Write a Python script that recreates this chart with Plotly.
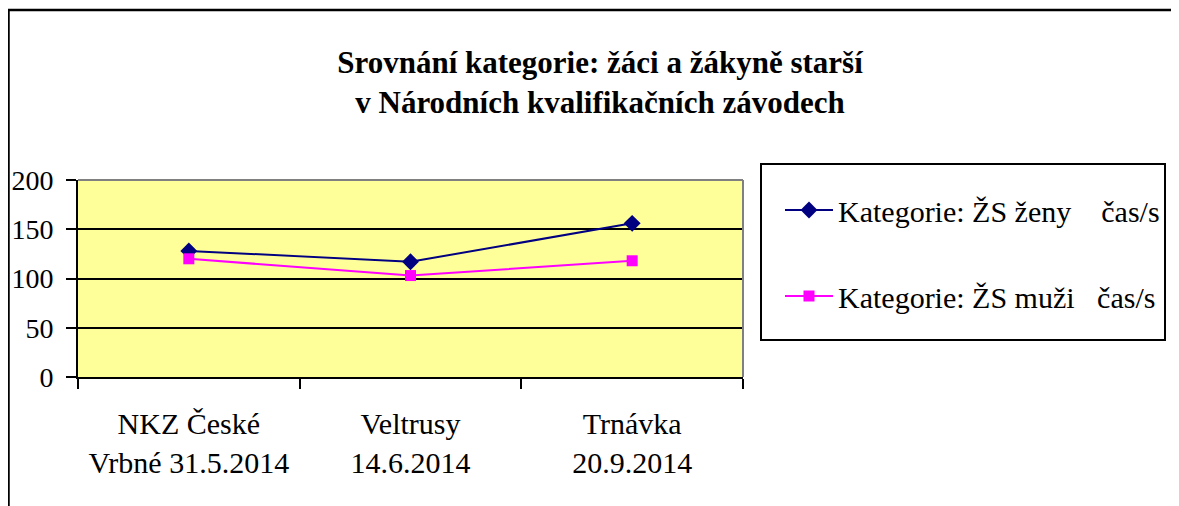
import plotly.graph_objects as go

categories = ["NKZ České<br>Vrbné 31.5.2014", "Veltrusy<br>14.6.2014", "Trnávka<br>20.9.2014"]
zeny = [128, 117, 156]
muzi = [120, 103, 118]
series_names = ["Kategorie: ŽS ženy    čas/s", "Kategorie: ŽS muži   čas/s"]
y_ticks = [0, 50, 100, 150, 200]

# the page body has an 8px default margin; work in screen coordinates
OFF = 8
W, H = 1179 - OFF, 506 - OFF
L, R, T, B = 78 - OFF, 743 - OFF, 180 - OFF, 377 - OFF
FONT = "Liberation Serif"


def px(x):
    return (x - OFF - L) / (R - L)


def py(y):
    return (B - (y - OFF)) / (B - T)


fig = go.Figure()
fig.add_trace(go.Scatter(
    x=categories, y=zeny, name=series_names[0], mode="lines+markers",
    line=dict(color="#000080", width=2),
    marker=dict(symbol="diamond", size=13, color="#000080"),
    legendgroup="a",
))
fig.add_trace(go.Scatter(
    x=categories, y=muzi, name=series_names[1], mode="lines+markers",
    line=dict(color="#FF00FF", width=2),
    marker=dict(symbol="square", size=11, color="#FF00FF"),
    legendgroup="b",
))

shapes = [
    # outer chart frame (top and left visible)
    dict(type="line", xref="paper", yref="paper", x0=px(7), x1=px(1200), y0=py(10), y1=py(10),
         line=dict(color="black", width=2.5)),
    dict(type="line", xref="paper", yref="paper", x0=px(8.5), x1=px(8.5), y0=py(9), y1=py(530),
         line=dict(color="black", width=2.5)),
    # grey plot-area border (top, right)
    dict(type="line", xref="paper", yref="paper", x0=0, x1=1, y0=1, y1=1,
         line=dict(color="#808080", width=2), layer="above"),
    dict(type="line", xref="paper", yref="paper", x0=1, x1=1, y0=0, y1=1,
         line=dict(color="#808080", width=2), layer="above"),
    # legend box
    dict(type="rect", xref="paper", yref="paper", x0=px(761), x1=px(1165), y0=py(340), y1=py(164),
         line=dict(color="black", width=2), fillcolor="white", layer="below"),
]

fig.update_layout(
    width=W, height=H,
    margin=dict(l=L, r=W - R, t=T, b=H - B, autoexpand=False),
    paper_bgcolor="white",
    plot_bgcolor="#FFFF99",
    font=dict(family=FONT, size=30, color="black"),
    title=dict(
        text="<b>Srovnání kategorie: žáci a žákyně starší<br>v Národních kvalifikačních závodech</b>",
        x=(600 - OFF) / W, xref="container", xanchor="center",
        y=1 - (73 - OFF) / H, yref="container", yanchor="middle",
        font=dict(family=FONT, size=31, color="black"),
        automargin=False,
    ),
    showlegend=True,
    legend=dict(
        x=px(780), y=py(184), xanchor="left", yanchor="top",
        bgcolor="rgba(0,0,0,0)", borderwidth=0,
        font=dict(family=FONT, size=30, color="black"),
        traceorder="grouped", tracegroupgap=44, itemwidth=48,
    ),
    shapes=shapes,
)

fig.update_xaxes(
    type="category", tickson="boundaries", ticks="outside", ticklen=10, tickwidth=2,
    tickcolor="black", showline=True, linecolor="black", linewidth=2,
    showgrid=False, tickfont=dict(family=FONT, size=30, color="black"),
    range=[-0.5, 2.5], ticklabelstandoff=19, automargin=False,
)
fig.update_yaxes(
    range=[0, 200], tickvals=y_ticks, ticks="outside", ticklen=10, tickwidth=2,
    tickcolor="black", showline=True, linecolor="black", linewidth=2,
    showgrid=True, gridcolor="black", gridwidth=1.5, zeroline=False,
    tickfont=dict(family=FONT, size=28, color="black"), ticklabelstandoff=7,
    automargin=False,
)

fig.write_html("out.html")
